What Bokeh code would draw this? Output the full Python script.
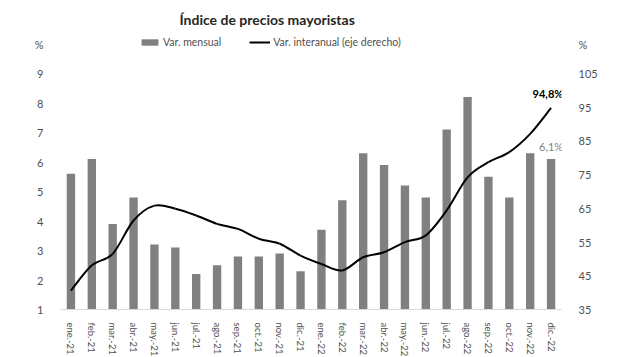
from bokeh.plotting import figure
from bokeh.models import (Range1d, LinearAxis, FixedTicker, Label, Legend, LegendItem)
from bokeh.embed import file_html
from bokeh.resources import INLINE

months = ["ene.-21", "feb.-21", "mar.-21", "abr.-21", "may.-21", "jun.-21", "jul.-21",
          "ago.-21", "sep.-21", "oct.-21", "nov.-21", "dic.-21",
          "ene.-22", "feb.-22", "mar.-22", "abr.-22", "may.-22", "jun.-22", "jul.-22",
          "ago.-22", "sep.-22", "oct.-22", "nov.-22", "dic.-22"]
var_mensual = [5.6, 6.1, 3.9, 4.8, 3.2, 3.1, 2.2, 2.5, 2.8, 2.8, 2.9, 2.3,
               3.7, 4.7, 6.3, 5.9, 5.2, 4.8, 7.1, 8.2, 5.5, 4.8, 6.3, 6.1]
var_interanual = [40.6, 48.1, 51.5, 61.4, 65.8, 64.9, 62.9, 60.4, 58.9, 56.0, 54.5, 51.0,
                  48.5, 46.6, 50.5, 52.0, 55.0, 57.0, 64.4, 74.2, 78.7, 81.7, 87.1, 94.8]
left_ticks = [1, 2, 3, 4, 5, 6, 7, 8, 9]
right_ticks = [35, 45, 55, 65, 75, 85, 95, 105]

FONT = "Lato"
GRAY_TXT = "#505050"
BAR = "#808080"

n = len(months)
xs = list(range(n))
# frame spans full height down to the x axis; 29.5 px per unit on the left axis
TOP = 1 + 309 / 29.5
p = figure(frame_width=501, frame_height=309, output_backend="svg", toolbar_location=None,
           x_range=Range1d(-0.5, n - 0.5), y_range=Range1d(1, TOP),
           min_border_left=60, min_border_right=56, min_border_top=0, min_border_bottom=48,
           outline_line_color=None, background_fill_color="white", border_fill_color="white")
p.extra_y_ranges = {"right": Range1d(35, 35 + (TOP - 1) * 8.75)}
p.xgrid.visible = False
p.ygrid.visible = False

# axes
p.xaxis.ticker = FixedTicker(ticks=xs)
p.xaxis.major_label_overrides = {i: m for i, m in enumerate(months)}
p.xaxis.major_label_orientation = "vertical"
p.xaxis.axis_line_color = "#d9d9d9"
p.xaxis.major_tick_line_color = None
p.xaxis.minor_tick_line_color = None
p.xaxis.major_label_text_font = FONT
p.xaxis.major_label_text_font_size = "9.5px"
p.xaxis.major_label_text_color = GRAY_TXT
p.xaxis.major_label_standoff = 7

# unit label "%" shown as an extra tick just above the top value
p.yaxis.ticker = FixedTicker(ticks=left_ticks + [10])
p.yaxis.major_label_overrides = {10: "%"}
p.yaxis.axis_line_color = None
p.yaxis.major_tick_line_color = None
p.yaxis.minor_tick_line_color = None
p.yaxis.major_label_text_font = FONT
p.yaxis.major_label_text_font_size = "11px"
p.yaxis.major_label_text_color = GRAY_TXT
p.yaxis.major_label_standoff = 11

r_top = 35 + 9 * 8.75
ax_r = LinearAxis(y_range_name="right", ticker=FixedTicker(ticks=right_ticks + [r_top]),
                  major_label_overrides={r_top: "%"},
                  axis_line_color=None, major_tick_line_color=None, minor_tick_line_color=None,
                  major_label_text_font=FONT, major_label_text_font_size="11px",
                  major_label_text_color=GRAY_TXT, major_label_standoff=11)
p.add_layout(ax_r, "right")

# bars
bars = p.vbar(x=xs, top=var_mensual, bottom=1, width=0.4, fill_color=BAR, line_color=None)

# smooth line (Catmull-Rom -> cubic Bezier segments)
x0, y0, x1, y1, cx0, cy0, cx1, cy1 = [], [], [], [], [], [], [], []
for i in range(n - 1):
    pm = i - 1 if i > 0 else i
    pp = i + 2 if i + 2 < n else i + 1
    x0.append(i); y0.append(var_interanual[i])
    x1.append(i + 1); y1.append(var_interanual[i + 1])
    cx0.append(i + (i + 1 - pm) / 6.0)
    cy0.append(var_interanual[i] + (var_interanual[i + 1] - var_interanual[pm]) / 6.0)
    cx1.append(i + 1 - (pp - i) / 6.0)
    cy1.append(var_interanual[i + 1] - (var_interanual[pp] - var_interanual[i]) / 6.0)
p.bezier(x0=x0, y0=y0, x1=x1, y1=y1, cx0=cx0, cy0=cy0, cx1=cx1, cy1=cy1,
         y_range_name="right", line_color="black", line_width=2)
line_leg = p.line(x=[float("nan")], y=[float("nan")], line_color="black", line_width=2,
                  y_range_name="right")

# data labels
p.add_layout(Label(x=n - 1.15, y=var_interanual[-1], y_range_name="right", text="94,8%",
                   text_font=FONT, text_font_size="11px", text_font_style="bold",
                   text_color="black", text_align="center", text_baseline="bottom", y_offset=8))
p.add_layout(Label(x=n - 1, y=var_mensual[-1], text="6,1%",
                   text_font=FONT, text_font_size="11px", text_color="#7f7f7f",
                   text_align="center", text_baseline="bottom", y_offset=6))

# title
p.add_layout(Label(x=9.4, y=1 + (309 - 19) / 29.5, text="Índice de precios mayoristas",
                   text_font=FONT, text_font_size="14px", text_font_style="bold",
                   text_color="#262626", text_align="center", text_baseline="middle"))

legend = Legend(items=[LegendItem(label="Var. mensual", renderers=[bars]),
                       LegendItem(label="Var. interanual (eje derecho)", renderers=[line_leg])],
                orientation="horizontal", location=(79, 261), padding=0, margin=0,
                spacing=28, glyph_width=21, glyph_height=8, label_standoff=3,
                label_text_font=FONT, label_text_font_size="10.5px", label_text_color=GRAY_TXT,
                border_line_color=None, background_fill_alpha=0)
p.add_layout(legend)

open("out.html", "w").write(file_html(p, INLINE))
